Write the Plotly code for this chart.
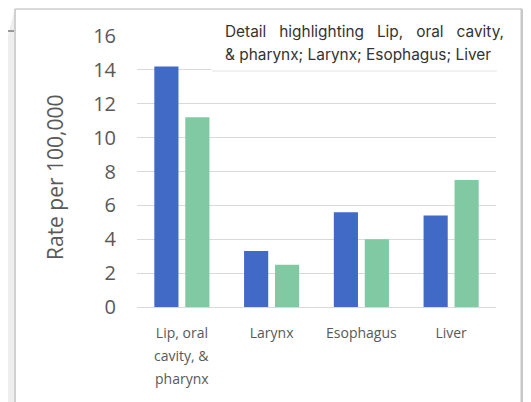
import plotly.graph_objects as go

categories = ["Lip, oral cavity, & pharynx", "Larynx", "Esophagus", "Liver"]
tick_labels = ["Lip, oral", "Larynx", "Esophagus", "Liver"]
extra_label_lines = ["cavity, &", "pharynx"]
series_a = [14.2, 3.3, 5.6, 5.4]
series_b = [11.2, 2.5, 4.0, 7.5]
y_ticks = [0, 2, 4, 6, 8, 10, 12, 14, 16]

OFF = 8  # page body margin
W, H = 531 - OFF, 402 - OFF
def px(x):
    return (x - OFF) / W
def py(y):
    return 1 - (y - OFF) / H

fig = go.Figure()
fig.add_trace(go.Bar(x=categories, y=series_a, marker=dict(color="#4169C6", line=dict(width=0)), name="A"))
fig.add_trace(go.Bar(x=categories, y=series_b, marker=dict(color="#80C9A2", line=dict(width=0)), name="B"))

shapes = [
    dict(type="path", xref="paper", yref="paper",
         path=f"M {px(15)} {py(8)} L {px(8)} {py(35)} L {px(8)} {py(402)} L {px(15)} {py(402)} Z",
         fillcolor="#eeeeee", line=dict(width=0), layer="below"),
    dict(type="line", xref="paper", yref="paper", x0=px(8), x1=px(14), y0=py(31), y1=py(31),
         line=dict(color="#999999", width=2), layer="below"),
    dict(type="line", xref="paper", yref="paper", x0=px(15), x1=px(522), y0=py(9), y1=py(9),
         line=dict(color="#cccccc", width=1.5), layer="below"),
    dict(type="line", xref="paper", yref="paper", x0=px(15), x1=px(15), y0=py(9), y1=py(402),
         line=dict(color="#d0d0d0", width=2), layer="below"),
    dict(type="line", xref="paper", yref="paper", x0=px(522), x1=px(522), y0=py(9), y1=py(402),
         line=dict(color="#c8c8c8", width=3), layer="below"),
    dict(type="rect", xref="paper", yref="paper", x0=px(211), x1=px(512), y0=py(71), y1=py(14),
         fillcolor="white", line=dict(width=0), layer="above"),
    dict(type="line", xref="paper", yref="paper", x0=px(212), x1=px(497), y0=py(71), y1=py(71),
         line=dict(color="#e4e4e4", width=1), layer="above"),
]

label_font = dict(family="Open Sans", size=14, color="#595959")
annotations = [
    dict(text="Rate per 100,000", xref="paper", yref="paper", x=px(55), y=py(177),
         textangle=-90, showarrow=False, font=dict(family="Open Sans", size=21, color="#595959"),
         xanchor="center", yanchor="middle"),
    dict(text="Detail   highlighting   Lip,   oral   cavity,", xref="paper", yref="paper", x=px(223), y=py(31),
         showarrow=False, font=dict(family="Inter", size=15.4, color="#333333"),
         xanchor="left", yanchor="middle"),
    dict(text="& pharynx; Larynx; Esophagus; Liver", xref="paper", yref="paper", x=px(223), y=py(55),
         showarrow=False, font=dict(family="Inter", size=15.4, color="#333333"),
         xanchor="left", yanchor="middle"),
]
for i, line in enumerate(extra_label_lines):
    annotations.append(dict(text=line, x=categories[0], xref="x", yref="paper", y=py(355 + 23 * i),
                            showarrow=False, font=label_font, xanchor="center", yanchor="middle"))

fig.update_layout(
    width=W, height=H,
    margin=dict(l=0, r=0, t=0, b=0),
    paper_bgcolor="white", plot_bgcolor="white",
    showlegend=False,
    barmode="group", bargap=0.31, bargroupgap=0.22,
    shapes=shapes, annotations=annotations,
    xaxis=dict(domain=[px(137), px(496)], automargin=False,
               tickmode="array", tickvals=categories, ticktext=tick_labels,
               tickfont=label_font, ticklabelstandoff=16,
               showline=False, ticks="", showgrid=False),
    yaxis=dict(domain=[py(307), py(36)], range=[0, 16], automargin=False,
               tickmode="array", tickvals=y_ticks,
               tickfont=dict(family="Open Sans", size=20, color="#595959"),
               ticklabelstandoff=20,
               showgrid=True, gridcolor="#d9d9d9", gridwidth=1,
               zeroline=True, zerolinecolor="#d9d9d9", zerolinewidth=1,
               showline=False, ticks=""),
)

fig.write_html("out.html")
